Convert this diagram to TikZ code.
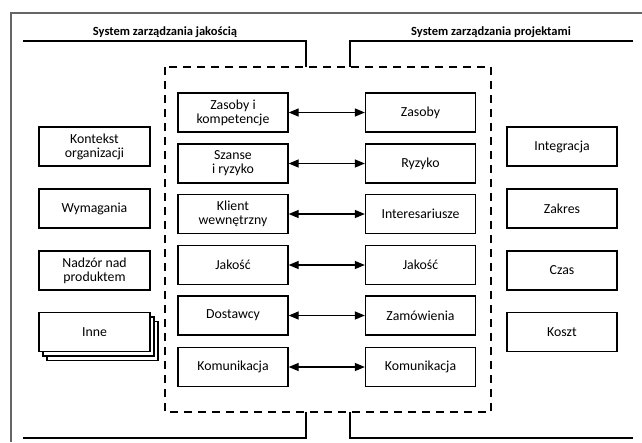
\documentclass[tikz,border=0pt]{standalone}
\usepackage{fontspec}
\setmainfont{Carlito}
\usetikzlibrary{arrows.meta}
\begin{document}
\begin{tikzpicture}[x=1pt,y=-1pt,
  box/.style={draw,line width=1.3pt,fill=white,minimum width=110pt,minimum height=39pt,inner sep=0pt,align=center,font=\fontsize{13.8}{13.8}\selectfont},
  conn/.style={line width=1.3pt,{Triangle[length=10pt,width=8pt]}-{Triangle[length=10pt,width=8pt]}},
  bracket/.style={line width=1.3pt},
  ttl/.style={font=\fontsize{12.5}{14}\selectfont\bfseries}]
\useasboundingbox (0,0) rectangle (642,442);
% outer frame (top and left visible)
\draw[gray!80!black,line width=1.3pt] (11,442) -- (11,13) -- (642,13);
% titles
\node[ttl] (t1) at (165,32) {System zarządzania jakością};
\node[ttl] (t2) at (491,32) {System zarządzania projektami};
% brackets
\draw[bracket] (23,41) -- (306,41) -- (306,67);
\draw[bracket] (633,41) -- (350,41) -- (350,67);
\draw[bracket] (23,438) -- (306,438) -- (306,412);
\draw[bracket] (633,438) -- (350,438) -- (350,412);
% dashed box
\draw[line width=1.5pt,dash pattern=on 8pt off 6pt] (165,67) rectangle (491,412);
% inner rows
\foreach \n/\y/\a/\b in {1/112.5/{Zasoby i\\kompetencje}/{Zasoby},
                         2/163.5/{Szanse\\i ryzyko}/{Ryzyko},
                         3/214/{Klient\\wewnętrzny}/{Interesariusze},
                         4/265/{Jakość}/{Jakość},
                         5/315.5/{Dostawcy}/{Zamówienia},
                         6/367/{Komunikacja}/{Komunikacja}}{
  \node[box] (l\n) at (233,\y) {\a};
  \node[box] (r\n) at (420.5,\y) {\b};
  \draw[conn] (l\n) -- (r\n);
}
% left column
\node[box,minimum width=111pt] (lc1) at (94.5,146.5) {Kontekst\\organizacji};
\node[box,minimum width=111pt] (lc2) at (94.5,208.5) {Wymagania};
\node[box,minimum width=111pt] (lc3) at (94.5,270.5) {Nadzór nad\\produktem};
\node[box,minimum width=111pt] (lc4c) at (102.5,341) {};
\node[box,minimum width=111pt] (lc4b) at (98.5,336.5) {};
\node[box,minimum width=111pt] (lc4) at (94.5,332) {Inne};
% right column
\node[box] (rc1) at (562,146.5) {Integracja};
\node[box] (rc2) at (562,208.5) {Zakres};
\node[box] (rc3) at (562,270.5) {Czas};
\node[box] (rc4) at (562,332) {Koszt};
\end{tikzpicture}
\end{document}
